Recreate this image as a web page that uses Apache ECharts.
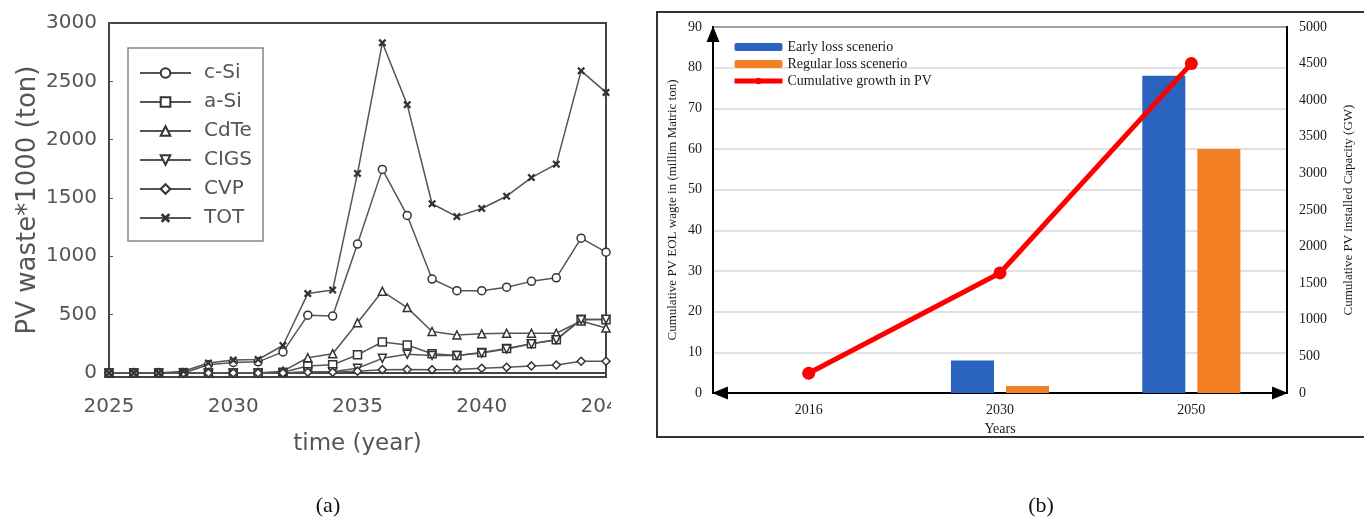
<!DOCTYPE html>
<html>
<head>
<meta charset="utf-8">
<script src="https://cdn.jsdelivr.net/npm/echarts@6/dist/echarts.min.js"></script>
<style>
  html, body { margin: 0; padding: 0; background: #fff; }
  #b { position: absolute; left: 0; top: 0; width: 1364px; height: 521px; }
  #aWrap { position: absolute; left: 0; top: 0; width: 611px; height: 521px; overflow: hidden; }
  #a { position: absolute; left: 0; top: 0; width: 700px; height: 521px; }
</style>
</head>
<body>
<div id="b"></div>
<div id="aWrap"><div id="a"></div></div>
<script>
// ---------- Panel (a) data ----------
const yearsA = [2025,2026,2027,2028,2029,2030,2031,2032,2033,2034,2035,2036,2037,2038,2039,2040,2041,2042,2043,2044,2045];
const cSi  = [0,0,0,0,70,90,95,180,495,487,1105,1745,1350,805,705,705,735,785,815,1155,1035];
const aSi  = [0,0,0,0,0,0,0,5,60,70,155,265,240,165,150,175,210,250,285,460,455];
const CdTe = [0,0,0,0,0,0,0,15,130,165,430,700,560,355,325,335,340,340,340,445,385];
const CIGS = [0,0,0,0,0,0,0,0,10,10,40,125,160,150,150,170,205,250,285,455,460];
const CVP  = [0,0,0,0,0,0,0,0,5,5,15,28,30,28,30,40,48,60,68,100,100];
const TOT  = [0,0,0,15,85,110,115,235,680,710,1710,2830,2300,1450,1340,1410,1515,1675,1790,2590,2405];
const seriesNamesA = ['c-Si','a-Si','CdTe','CIGS','CVP','TOT'];
const yTicksA = [0,500,1000,1500,2000,2500,3000];

// ---------- Panel (b) data ----------
const categoriesB = ['2016','2030','2050'];
const earlyLoss   = [null, 8, 78];
const regularLoss = [null, 1.7, 60];
const cumulativePV = [270, 1640, 4500];
const seriesNamesB = ['Early loss scenerio','Regular loss scenerio','Cumulative growth in PV'];

const plain = v => String(v);

// ---------- Panel (a) ----------
const grayText = '#555';
const lineGray = '#555';
const markGray = '#333';
const fontA = 'DejaVu Sans';
const xPath = 'path://M2,0 L5,3 L8,0 L10,2 L7,5 L10,8 L8,10 L5,7 L2,10 L0,8 L3,5 L0,2 Z';

function mk(name, data, symbol, rot, filled) {
  return {
    name: name, type: 'line', clip: false,
    data: yearsA.map((y, i) => [y, data[i]]),
    symbol: symbol, symbolSize: 8, symbolRotate: rot || 0,
    showAllSymbol: true,
    lineStyle: { color: lineGray, width: 1.5 },
    itemStyle: { color: filled ? markGray : '#fff', borderColor: markGray, borderWidth: filled ? 0 : 1.5 }
  };
}

const chartA = echarts.init(document.getElementById('a'), null, { renderer: 'canvas' });
chartA.setOption({
  animation: false,
  textStyle: { fontFamily: fontA },
  grid: { left: 109, top: 23, width: 497, height: 354, show: true, borderColor: '#444', borderWidth: 2 },
  legend: {
    orient: 'vertical', left: 128, top: 48,
    data: seriesNamesA,
    backgroundColor: '#fff', borderColor: '#888', borderWidth: 1.5, borderRadius: 0,
    padding: [15, 11, 13, 11],
    itemWidth: 51, itemHeight: 12, itemGap: 9,
    textStyle: { fontSize: 20, color: grayText, fontFamily: fontA, lineHeight: 20, padding: [0, 0, 0, 8] }
  },
  xAxis: {
    type: 'value', min: 2025, max: 2045, interval: 5,
    name: 'time (year)', nameLocation: 'middle', nameGap: 56, nameMoveOverlap: false,
    nameTextStyle: { fontSize: 23, color: grayText, fontFamily: fontA },
    axisLine: { lineStyle: { color: '#444', width: 2 } },
    axisTick: { inside: true, length: 4, lineStyle: { color: '#555' } },
    axisLabel: { fontSize: 20, color: grayText, margin: 20, showMaxLabel: true, showMinLabel: true, fontFamily: fontA, formatter: plain },
    splitLine: { show: false }
  },
  yAxis: {
    type: 'value', min: -35, max: 3000,
    name: 'PV waste*1000 (ton)', nameLocation: 'middle', nameGap: 68, nameMoveOverlap: false,
    nameTextStyle: { fontSize: 26, color: grayText, fontFamily: fontA },
    axisLine: { lineStyle: { color: '#444', width: 2 } },
    axisTick: { inside: true, length: 4, customValues: yTicksA, lineStyle: { color: '#555' } },
    axisLabel: { fontSize: 20, color: grayText, margin: 12, customValues: yTicksA, fontFamily: fontA, formatter: plain },
    splitLine: { show: false }
  },
  series: [
    mk('c-Si', cSi, 'circle'),
    mk('a-Si', aSi, 'rect'),
    mk('CdTe', CdTe, 'triangle'),
    mk('CIGS', CIGS, 'triangle', 180),
    mk('CVP', CVP, 'diamond'),
    mk('TOT', TOT, xPath, 0, true)
  ]
});

// ---------- Panel (b) ----------
const fontB = 'Liberation Serif';
const darkText = '#1a1a1a';
const chartB = echarts.init(document.getElementById('b'), null, { renderer: 'canvas' });
chartB.setOption({
  animation: false,
  textStyle: { fontFamily: fontB },
  graphic: [
    { type: 'rect', shape: { x: 657, y: 12, width: 720, height: 425 },
      style: { fill: 'none', stroke: '#333', lineWidth: 2 }, silent: true },
    { type: 'text', x: 328, y: 506, style: { text: '(a)', font: '22px "Liberation Serif"', fill: '#111', textAlign: 'center', textVerticalAlign: 'middle' } },
    { type: 'text', x: 1041, y: 506, style: { text: '(b)', font: '22px "Liberation Serif"', fill: '#111', textAlign: 'center', textVerticalAlign: 'middle' } }
  ],
  grid: { left: 713, top: 27, width: 574, height: 366, show: true, borderColor: '#000', borderWidth: 2, backgroundColor: 'transparent' },
  legend: {
    orient: 'vertical', left: 732, top: 40, padding: 0,
    data: [
      { name: seriesNamesB[0] },
      { name: seriesNamesB[1] },
      { name: seriesNamesB[2], lineStyle: { width: 5, color: '#FF0000' } }
    ],
    itemWidth: 48, itemHeight: 8, itemGap: 3,
    textStyle: { fontSize: 14, color: darkText, fontFamily: fontB, lineHeight: 14 }
  },
  xAxis: {
    type: 'category', data: categoriesB,
    name: 'Years', nameLocation: 'middle', nameGap: 24,
    nameTextStyle: { fontSize: 14, color: darkText, fontFamily: fontB },
    axisLine: { lineStyle: { color: '#000', width: 2 }, symbol: ['triangle', 'triangle'], symbolSize: [13, 16], symbolOffset: [7, -7] },
    axisTick: { show: false },
    axisLabel: { fontSize: 14, color: darkText, margin: 10, fontFamily: fontB },
    splitLine: { show: false }
  },
  yAxis: [
    {
      type: 'value', min: 0, max: 90, interval: 10,
      name: 'Cumulative PV EOL wagte in (millim Matric ton)', nameLocation: 'middle', nameGap: 34,
      nameTextStyle: { fontSize: 13, color: darkText, fontFamily: fontB },
      axisLine: { show: true, lineStyle: { color: '#000', width: 2 }, symbol: ['none', 'triangle'], symbolSize: [13, 16], symbolOffset: [0, -7] },
      axisTick: { show: false },
      axisLabel: { fontSize: 14, color: darkText, margin: 11, fontFamily: fontB, formatter: plain },
      splitLine: { show: true, lineStyle: { color: '#d9d9d9', width: 1.5 } }
    },
    {
      type: 'value', min: 0, max: 5000, interval: 500, position: 'right',
      name: 'Cumulative PV installed Capacity (GW)', nameLocation: 'middle', nameGap: 55,
      nameTextStyle: { fontSize: 13, color: darkText, fontFamily: fontB },
      axisLine: { show: true, lineStyle: { color: '#000', width: 2 } },
      axisTick: { show: false },
      axisLabel: { fontSize: 14, color: darkText, margin: 12, fontFamily: fontB, formatter: plain },
      splitLine: { show: false }
    }
  ],
  series: [
    { name: seriesNamesB[0], type: 'bar', data: earlyLoss, barWidth: 43, barGap: '28%', itemStyle: { color: '#2A63BE' } },
    { name: seriesNamesB[1], type: 'bar', data: regularLoss, barWidth: 43, itemStyle: { color: '#F47E22' } },
    { name: seriesNamesB[2], type: 'line', yAxisIndex: 1, data: cumulativePV, z: 5,
      symbol: 'circle', symbolSize: 13, lineStyle: { color: '#FF0000', width: 5 }, itemStyle: { color: '#FF0000' } }
  ]
});
</script>
</body>
</html>
